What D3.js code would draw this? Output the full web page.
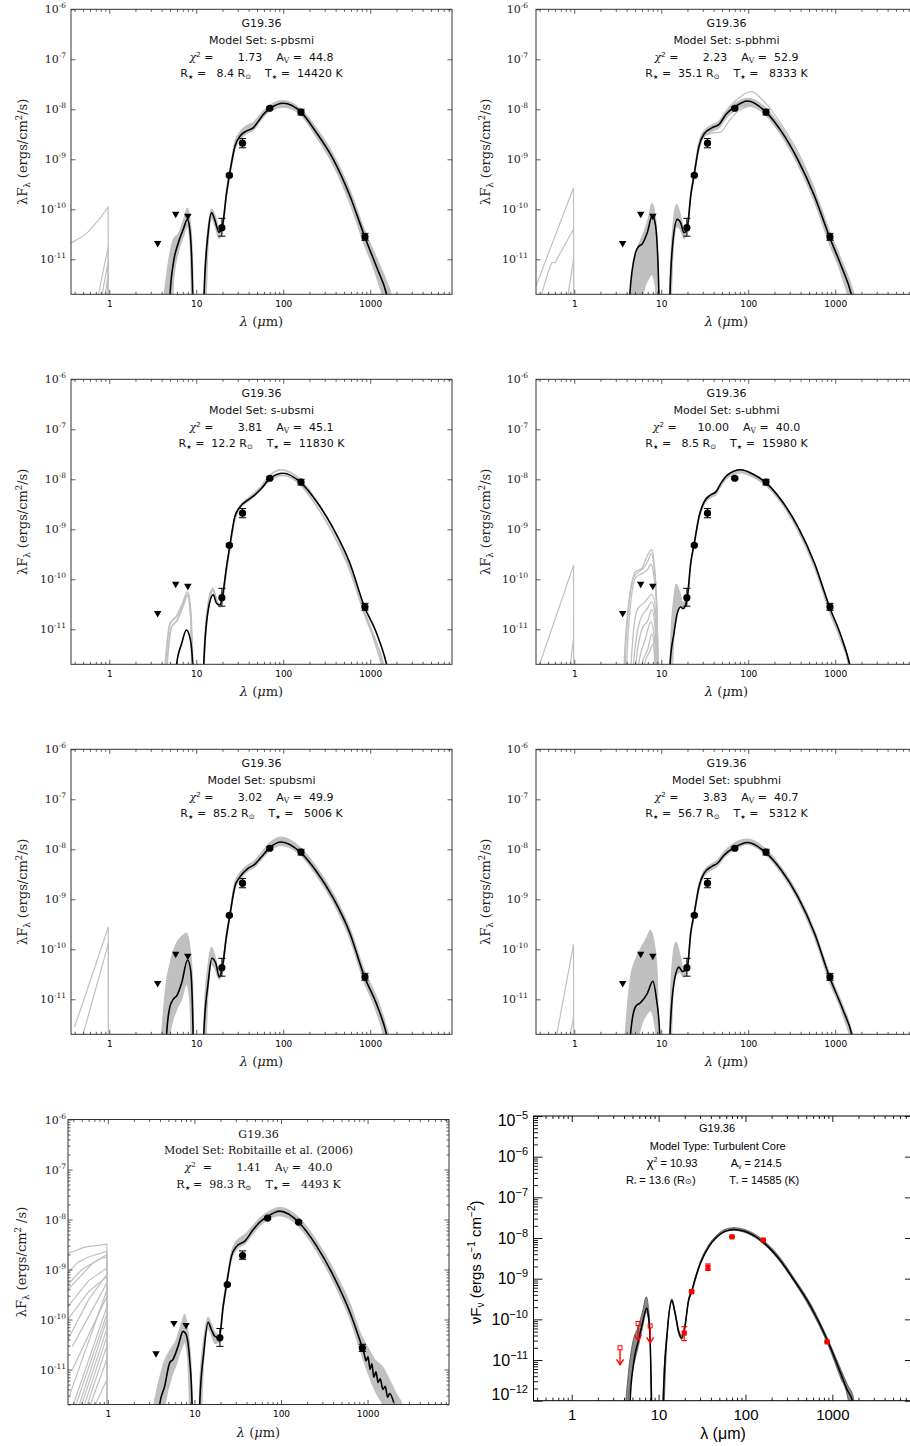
<!DOCTYPE html>
<html>
<head>
<meta charset="utf-8">
<script src="https://cdn.jsdelivr.net/npm/d3@7/dist/d3.min.js"></script>
<style>
body{margin:0;background:#fff;}
svg{display:block;}
</style>
</head>
<body>
<svg id="chart" width="910" height="1446"></svg>
<script>
// ================= DATA =================
const sourceName = "G19.36";
const modelSets = ["s-pbsmi","s-pbhmi","s-ubsmi","s-ubhmi","spubsmi","spubhmi","Robitaille et al. (2006)"];
const chi2Values = [1.73, 2.23, 3.81, 10.00, 3.02, 3.83, 1.41];
const avValues = [44.8, 52.9, 45.1, 40.0, 49.9, 40.7, 40.0];
const rstarValues = [8.4, 35.1, 12.2, 8.5, 85.2, 56.7, 98.3];
const tstarValues = [14420, 8333, 11830, 15980, 5006, 5312, 4493];

const tcTitle = "Model Type: Turbulent Core";
const tcChi2 = "10.93", tcAv = "214.5", tcR = "13.6", tcT = "14585";

const xTickValues = [1, 10, 100, 1000];
const yTickValues = [1e-11, 1e-10, 1e-9, 1e-8, 1e-7, 1e-6];
const tcYTickValues = [1e-12, 1e-11, 1e-10, 1e-9, 1e-8, 1e-7, 1e-6, 1e-5];

// observed fluxes (panels 1-6)
const obsWave = [19.7, 24, 34, 70, 160, 870];
const obsFlux = [4.3e-11, 4.8e-10, 2.1e-9, 1.05e-8, 8.8e-9, 2.8e-11];
const obsLow  = [2.9e-11, 4.5e-10, 1.7e-9, 9.9e-9, 7.7e-9, 2.4e-11];
const obsHigh = [6.6e-11, 5.1e-10, 2.6e-9, 1.12e-8, 1.0e-8, 3.3e-11];
const limWave = [3.6, 5.8, 8.0];
const limFlux = [2.1e-11, 8.1e-11, 7.4e-11];
// panel 7
const r06Wave = [19.7, 24, 36, 70, 160, 870];
const r06Flux = [4.3e-11, 5.0e-10, 1.9e-9, 1.07e-8, 8.9e-9, 2.7e-11];
const r06Low  = [2.9e-11, 4.7e-10, 1.6e-9, 1.0e-8, 8.3e-9, 2.3e-11];
const r06High = [6.6e-11, 5.3e-10, 2.35e-9, 1.14e-8, 9.5e-9, 3.2e-11];
const r06LimFlux = [2.1e-11, 8.5e-11, 7.7e-11];
// panel 8
const tcWave = [19.7, 24, 37, 70, 160, 870];
const tcFlux = [4.6e-11, 4.8e-10, 1.9e-9, 1.07e-8, 8.9e-9, 2.8e-11];
const tcLow  = [3.0e-11, 4.6e-10, 1.6e-9, 1.04e-8, 8.6e-9, 2.7e-11];
const tcHigh = [6.6e-11, 5.0e-10, 2.3e-9, 1.1e-8, 9.2e-9, 2.9e-11];
const tcLimFlux = [2.0e-11, 7.9e-11, 6.9e-11];

// ---- best-fit model SEDs [lambda, flux] ----
const p1Black = [[4.7,1e-13],[5.0,2e-12],[5.45,8.3e-12],[6.2,2.1e-11],[7.1,4e-11],[7.9,6.3e-11],[8.5,3.5e-11],[9.1,2e-12],[9.4,1e-13],[11.8,1e-13],[12.3,2e-12],[13.7,3.4e-11],[15.0,8.5e-11],[16.4,6e-11],[18.2,3.5e-11],[19.9,4.5e-11],[22.3,2.1e-10],[24.3,5.4e-10],[27.9,1.85e-9],[31.8,2.9e-9],[38,3.7e-9],[45.4,4.3e-9],[51.9,5.8e-9],[59,7.9e-9],[70,1.03e-8],[100,1.32e-8],[160,8.8e-9],[241,3.4e-9],[376,1e-9],[585,1.85e-10],[860,2.9e-11],[1183,7e-12],[1543,2e-12],[1900,3e-13]];
const p2Black = [[4.1,1e-13],[4.35,2e-12],[5.06,1.36e-11],[5.5,1.8e-11],[6.0,2e-11],[6.9,3.4e-11],[7.9,7.6e-11],[8.6,4.7e-11],[9.4,2e-12],[9.7,1e-13],[12.2,1e-13],[12.6,2e-12],[13.7,2.5e-11],[15.3,6.3e-11],[16.7,5.4e-11],[18.2,3.4e-11],[19.9,4.3e-11],[21.8,1.85e-10],[23.9,5e-10],[27.2,1.85e-9],[31,3.2e-9],[38.7,4.3e-9],[46.3,5e-9],[55.3,7.9e-9],[70,1.12e-8],[98,1.47e-8],[160,8.8e-9],[238,3.7e-9],[370,1e-9],[577,1.85e-10],[860,2.8e-11],[1170,7.4e-12],[1530,2e-12],[1900,3e-13]];
const p3Black = [[5.7,1e-13],[5.94,2e-12],[6.8,5.2e-12],[7.7,9.7e-12],[8.5,6.6e-12],[9.1,2e-12],[9.3,1e-13],[11.8,1e-13],[12.2,2e-12],[13.7,2.4e-11],[15.7,4.9e-11],[17.1,3.3e-11],[18.7,3.1e-11],[19.9,4.3e-11],[22.3,1.8e-10],[24.4,4.9e-10],[27.8,1.8e-9],[31.8,2.8e-9],[39.7,3.9e-9],[47.2,4.9e-9],[56.4,6.6e-9],[70.3,1.05e-8],[100,1.32e-8],[160,8.5e-9],[241,3.6e-9],[376,1.04e-9],[584,2.1e-10],[853,2.9e-11],[1183,8.3e-12],[1540,2e-12],[1900,3e-13]];
const p4Black = [[12.2,1e-13],[12.6,2e-12],[14,8.3e-12],[15.3,2.1e-11],[16.7,2.8e-11],[17.9,2.6e-11],[19.9,4.3e-11],[21.8,2.1e-10],[23.8,4.9e-10],[27.2,1.8e-9],[31,3.5e-9],[37,4.9e-9],[42.4,5.6e-9],[48.4,8.3e-9],[57.8,1.23e-8],[82,1.55e-8],[117,1.23e-8],[160,8.5e-9],[238,3.9e-9],[371,1.13e-9],[578,2.1e-10],[860,2.8e-11],[1175,7.1e-12],[1463,2e-12],[1800,3e-13]];
const p5Black = [[4.4,1e-13],[4.56,2e-12],[4.98,7.1e-12],[5.44,1.0e-11],[6.0,1.2e-11],[6.78,2.1e-11],[7.95,6.1e-11],[8.6,3.9e-11],[9.2,2e-12],[9.4,1e-13],[11.8,1e-13],[12.2,2e-12],[13.7,2.1e-11],[15.1,6.6e-11],[16.8,5.2e-11],[18.4,2.8e-11],[19.9,4.3e-11],[22.3,1.9e-10],[24.4,4.9e-10],[27.8,1.8e-9],[31.8,2.8e-9],[39.7,4.2e-9],[47,5e-9],[56,7e-9],[70,1.08e-8],[95,1.4e-8],[160,8.5e-9],[241,3.6e-9],[376,1.05e-9],[584,2.1e-10],[853,2.9e-11],[1183,8e-12],[1540,2e-12],[1900,3e-13]];
const p6Black = [[4.3,1e-13],[4.43,2e-12],[5.06,7.1e-12],[5.78,8.6e-12],[6.9,1.3e-11],[8.0,2.3e-11],[8.75,1.1e-11],[9.6,2e-12],[9.8,1e-13],[12.2,1e-13],[12.6,2e-12],[14,2.1e-11],[16,4.4e-11],[17.5,3.6e-11],[19.9,4.3e-11],[21.8,2.1e-10],[23.8,4.9e-10],[27.2,1.8e-9],[31,3.3e-9],[38.7,4.6e-9],[44,5.2e-9],[52.6,7.6e-9],[70,1.1e-8],[98,1.37e-8],[160,8.5e-9],[238,3.9e-9],[371,1.13e-9],[578,2.1e-10],[860,2.8e-11],[1225,6.2e-12],[1550,2e-12],[1900,3e-13]];
const p7Black = [[3.8,1e-13],[3.97,2e-12],[4.53,4.6e-12],[5.18,1.36e-11],[5.66,1.6e-11],[6.47,2.9e-11],[7.39,5.8e-11],[7.94,5.2e-11],[8.8,1.6e-11],[9.4,2e-12],[9.6,1e-13],[11.2,1e-13],[11.5,2e-12],[12.8,2.1e-11],[14.4,8.8e-11],[15.7,6.3e-11],[17.2,4.6e-11],[19.3,4.3e-11],[21.5,1.85e-10],[23.5,5e-10],[26.8,1.85e-9],[30.6,2.9e-9],[38.3,3.7e-9],[47.8,6.3e-9],[57.1,8.9e-9],[68.2,1.12e-8],[97.3,1.47e-8],[159,8.9e-9],[259,2.9e-9],[404,7.4e-10],[630,1.35e-10],[860,2.9e-11],[900,2.3e-11],[960,1.5e-11],[1010,1.8e-11],[1070,1e-11],[1120,1.3e-11],[1180,7e-12],[1250,9e-12],[1320,5.5e-12],[1400,6.5e-12],[1500,4e-12],[1600,4.6e-12],[1700,2.8e-12],[1800,3.3e-12],[2000,2.2e-12]];
const tcBlack = [[4.5,1e-13],[4.7,1e-12],[5.15,8.3e-12],[5.88,3.1e-11],[6.6,9e-11],[7.3,1.9e-10],[7.6,1.3e-10],[8.0,3e-11],[8.3,1e-12],[8.5,1e-13],[11.1,1e-13],[11.3,1e-12],[12.6,5e-11],[14.2,2.9e-10],[15.6,1.3e-10],[17.0,5e-11],[18.4,3.5e-11],[19.8,5.5e-11],[22.2,3e-10],[24,4.8e-10],[26,9e-10],[30.3,2.4e-9],[37.8,6.1e-9],[47.1,1.07e-8],[58.8,1.48e-8],[73.3,1.63e-8],[95.6,1.48e-8],[149,8.9e-9],[232,3.5e-9],[361,9.3e-10],[562,2.1e-10],[875,3.1e-11],[1248,4.7e-12],[1490,1.8e-12],[1700,1e-12],[1800,1e-13]];

// ---- grey model envelopes [lambda, low, high] ----
const p1Band = [[4.2,1e-14,1.5e-12],[4.8,1e-14,9e-12],[5.5,4e-12,2.6e-11],[6.3,1.5e-11,3.3e-11],[7.2,3e-11,6.5e-11],[7.9,4.5e-11,1.05e-10],[8.5,2e-11,6e-11],[9.1,1e-13,8e-12],[9.6,1e-14,1e-14],[11.8,1e-14,1e-14],[12.4,1e-13,4e-12],[13.7,2e-11,4.5e-11],[15.0,6.5e-11,1e-10],[16.5,4.5e-11,7.5e-11],[18.3,2.6e-11,4.3e-11],[20,3.6e-11,5.2e-11],[22.3,1.8e-10,2.5e-10],[24.3,4.6e-10,6.2e-10],[28,1.6e-9,2.3e-9],[32,2.5e-9,3.6e-9],[38,3.3e-9,4.7e-9],[46,3.9e-9,5.6e-9],[55,6e-9,8e-9],[70,9.3e-9,1.2e-8],[100,1.1e-8,1.5e-8],[160,7.6e-9,1.0e-8],[240,2.8e-9,4.2e-9],[376,7.6e-10,1.25e-9],[585,1.3e-10,2.4e-10],[860,1.9e-11,3.8e-11],[1200,4e-12,1e-11],[1550,6e-13,3.5e-12],[1750,1e-14,1.8e-12],[1850,1e-14,5e-13]];
const p2Band = [[4.3,1e-14,1e-12],[4.8,1e-14,7e-12],[5.4,1e-13,1.8e-11],[6.2,2e-12,3.2e-11],[7.1,4e-12,6.5e-11],[7.8,5e-12,1.3e-10],[8.5,3e-12,8e-11],[9.2,1e-13,5e-12],[9.7,1e-14,1e-14],[12.0,1e-14,1e-14],[12.5,1e-13,3e-12],[13.7,1.5e-11,5e-11],[15.0,4.5e-11,1.25e-10],[16.5,4e-11,8e-11],[18.3,2.6e-11,4e-11],[20,3.6e-11,5e-11],[21.8,1.6e-10,2.2e-10],[24,4.5e-10,6e-10],[27.2,1.6e-9,2.3e-9],[31,2.8e-9,3.7e-9],[38.7,3.7e-9,4.9e-9],[46,4.2e-9,5.8e-9],[55,6.5e-9,9e-9],[70,9.5e-9,1.3e-8],[100,1.15e-8,1.65e-8],[160,7.6e-9,1.05e-8],[240,3e-9,4.4e-9],[370,8e-10,1.25e-9],[577,1.4e-10,2.4e-10],[860,2e-11,3.7e-11],[1170,5e-12,1e-11],[1530,7e-13,3e-12],[1750,1e-14,1.2e-12],[1850,1e-14,1e-14]];
const p3Band = [];
const p4Band = [[12.1,1e-14,1e-14],[12.8,1e-13,5e-12],[14,8e-12,4.5e-11],[14.8,2e-11,8e-11],[16.3,2.8e-11,5.5e-11],[17.6,2.5e-11,3.5e-11],[20,3.6e-11,4.6e-11],[21.8,1.8e-10,2.2e-10],[23.8,4.4e-10,5.2e-10],[27.2,1.6e-9,1.9e-9],[31,3.1e-9,3.6e-9],[37,4.3e-9,5e-9],[42.4,4.9e-9,5.8e-9],[48.4,7.3e-9,8.5e-9],[57.8,1.07e-8,1.25e-8],[82,1.35e-8,1.55e-8],[117,1.08e-8,1.25e-8],[160,7.5e-9,8.7e-9],[238,3.4e-9,4e-9],[371,9.5e-10,1.15e-9],[578,1.7e-10,2.1e-10],[860,2.2e-11,2.8e-11],[1175,5.5e-12,7e-12],[1420,1.8e-12,2.5e-12],[1650,1e-14,6e-13]];
const p5Band = [[4.0,1e-14,2e-12],[4.5,1e-13,2e-11],[5.0,2e-12,5.2e-11],[5.9,6e-12,1.3e-10],[6.8,1e-11,1.8e-10],[7.7,2e-11,2.1e-10],[8.4,1e-11,1.2e-10],[9.1,1e-13,2e-11],[9.6,1e-14,1e-13],[11.8,1e-14,1e-14],[12.3,1e-13,5e-12],[13.7,1.5e-11,5e-11],[15,5e-11,1.1e-10],[16.5,4e-11,7e-11],[18.3,2.5e-11,3.5e-11],[20,3.5e-11,5e-11],[22.3,1.6e-10,2.3e-10],[24.4,4.4e-10,5.8e-10],[27.8,1.6e-9,2.2e-9],[31.8,2.5e-9,3.4e-9],[39.7,3.7e-9,4.9e-9],[47,4.4e-9,6e-9],[56,6.3e-9,8.5e-9],[70,9.5e-9,1.35e-8],[95,1.2e-8,1.75e-8],[160,7.5e-9,1.05e-8],[241,3e-9,4.4e-9],[376,8.5e-10,1.3e-9],[584,1.6e-10,2.6e-10],[853,2.2e-11,3.8e-11],[1183,5.5e-12,1.1e-11],[1500,1e-12,3.2e-12],[1700,1e-14,1.2e-12],[1800,1e-14,1e-14]];
const p6Band = [[3.84,1e-14,2e-12],[4.4,1e-13,2.5e-11],[5.2,1e-12,7e-11],[5.9,3e-12,1.1e-10],[6.8,5e-12,1.7e-10],[7.5,6e-12,2.4e-10],[8.2,4e-12,1.5e-10],[9.0,1e-12,3e-11],[9.5,1e-14,1e-13],[12.1,1e-14,1e-14],[12.6,1e-13,5e-12],[13.7,1.5e-11,8e-11],[14.8,3e-11,1.4e-10],[16.3,3.5e-11,8e-11],[18,2.8e-11,4e-11],[20,3.5e-11,5e-11],[21.8,1.8e-10,2.4e-10],[23.8,4.4e-10,5.6e-10],[27.2,1.6e-9,2.1e-9],[31,2.9e-9,3.7e-9],[38.7,4e-9,5.2e-9],[44,4.6e-9,6e-9],[52.6,6.8e-9,9e-9],[70,1.0e-8,1.35e-8],[98,1.25e-8,1.6e-8],[160,7.7e-9,1.0e-8],[238,3.4e-9,4.4e-9],[371,9.7e-10,1.3e-9],[578,1.7e-10,2.4e-10],[860,2.2e-11,3.3e-11],[1225,4.8e-12,7.5e-12],[1550,1e-12,2.3e-12],[1750,1e-14,8e-13]];
const p7Band = [[3.4,1e-14,2e-12],[3.9,1e-13,6e-12],[4.6,2e-12,1.6e-11],[5.3,6e-12,2.5e-11],[6.2,1.3e-11,4e-11],[7.0,2.5e-11,8e-11],[7.73,3.5e-11,1.25e-10],[8.4,1.5e-11,6e-11],[9.2,1e-13,1e-11],[9.8,1e-14,1e-13],[11.0,1e-14,1e-14],[11.5,1e-13,5e-12],[12.8,1.5e-11,4e-11],[14.4,6.5e-11,1.1e-10],[15.7,5e-11,8e-11],[17.2,3.3e-11,5.5e-11],[19.3,3.5e-11,5e-11],[21.5,1.6e-10,2.3e-10],[23.5,4.4e-10,6e-10],[26.8,1.6e-9,2.3e-9],[30.6,2.5e-9,3.7e-9],[38.3,3.3e-9,5e-9],[47.8,5.3e-9,7.6e-9],[57.1,7.6e-9,1.07e-8],[68.2,9.7e-9,1.35e-8],[97.3,1.2e-8,1.75e-8],[159,7.4e-9,1.1e-8],[259,2.3e-9,3.7e-9],[404,5.6e-10,1e-9],[630,1e-10,2e-10],[860,1.9e-11,4.5e-11],[1000,9e-12,2.8e-11],[1200,4e-12,1.6e-11],[1500,2e-12,1.1e-11],[1800,1e-12,6e-12],[2100,1e-13,3.5e-12],[2600,1e-14,1.6e-12],[2800,1e-14,1e-14]];
const tcBand = [[4.2,1e-13,1e-12],[4.5,1e-12,5e-12],[5.0,5e-12,2.5e-11],[5.88,2.3e-11,7e-11],[6.6,7e-11,1.7e-10],[7.2,1.5e-10,3.6e-10],[7.6,1.1e-10,2.2e-10],[8.0,2.5e-11,4e-11],[8.3,1e-13,1e-12],[8.5,1e-14,1e-13],[11.0,1e-14,1e-14],[11.3,1e-13,1.5e-12],[12.6,4.5e-11,6e-11],[14.2,2.6e-10,3.2e-10],[15.6,1.2e-10,1.45e-10],[17,4.5e-11,5.6e-11],[18.4,3.2e-11,4e-11],[19.8,5e-11,6e-11],[22.2,2.8e-10,3.3e-10],[24,4.5e-10,5.3e-10],[30.3,2.3e-9,2.7e-9],[37.8,5.9e-9,6.8e-9],[47.1,1.03e-8,1.2e-8],[58.8,1.43e-8,1.65e-8],[73.3,1.55e-8,1.8e-8],[95.6,1.4e-8,1.65e-8],[149,8.3e-9,1e-8],[232,3.2e-9,4e-9],[361,8.5e-10,1.05e-9],[562,1.8e-10,2.4e-10],[875,2.6e-11,3.5e-11],[1248,3.6e-12,6e-12],[1490,1.3e-12,2.5e-12],[1750,1e-13,1.2e-12],[1850,1e-14,1e-13]];

// ---- individual grey model curves (smooth) ----
const p1Grey = [];
const p2Grey = [
  [[35,3.6e-9],[45,5e-9],[55,9e-9],[75,1.6e-8],[107,2.25e-8],[160,1.3e-8],[240,5e-9],[380,1.3e-9],[600,2.2e-10]],
  [[32,3e-9],[40,3.4e-9],[48,3.5e-9],[60,5.8e-9],[75,9e-9],[100,1.15e-8]]
];
const p3Grey = [
  [[4.0,1e-13],[4.5,3e-12],[5.0,1.3e-11],[5.9,1.8e-11],[7.0,3.3e-11],[7.95,5.6e-11],[8.5,3e-11],[9.1,2e-12],[9.3,1e-13]],
  [[4.2,1e-13],[4.7,3e-12],[5.2,1.1e-11],[6.0,1.5e-11],[7.0,2.8e-11],[7.95,4.8e-11],[8.6,2e-11],[9.1,1e-13]],
  [[11.8,1e-13],[12.3,3e-12],[13.8,3.5e-11],[15.5,6.6e-11],[17.0,4e-11],[18.5,3e-11],[20,4e-11],[22.3,1.7e-10],[24.4,4.6e-10],[27.8,1.7e-9],[31.8,2.9e-9],[40,4.2e-9],[55,7e-9],[70,1.2e-8],[95,1.55e-8],[160,9.5e-9],[240,3.8e-9],[376,1e-9],[585,1.8e-10],[860,2.3e-11],[1150,6e-12],[1450,1.5e-12],[1700,1e-13]],
  [[11.8,1e-13],[12.4,3e-12],[13.9,3e-11],[15.6,6e-11],[17.0,3.6e-11],[18.5,2.8e-11],[20,3.8e-11],[22.3,1.6e-10],[24.4,4.5e-10],[27.8,1.6e-9],[31.8,2.7e-9],[40,3.7e-9],[55,6.2e-9],[70,9.6e-9],[100,1.2e-8],[160,7.6e-9],[240,3e-9],[376,8e-10],[585,1.5e-10],[860,2e-11],[1150,5e-12],[1420,1.2e-12],[1650,1e-13]]
];
const p4Grey = [
  [[3.6,1e-13],[3.75,2e-12],[4.0,1.3e-11],[4.6,8.3e-11],[5.0,1.4e-10],[6.0,1.66e-10],[6.8,2.8e-10],[7.8,3.9e-10],[8.2,2.5e-10],[8.9,2.8e-11],[9.6,1e-13]],
  [[3.7,1e-13],[3.85,2e-12],[4.2,2.5e-11],[4.8,1.1e-10],[5.5,1.4e-10],[6.3,1.7e-10],[7.0,2.3e-10],[7.7,3.3e-10],[8.2,2e-10],[8.9,2.5e-11],[9.5,1e-13]],
  [[3.8,1e-13],[4.0,2e-12],[4.5,4e-11],[5.1,1.1e-10],[6.0,1.3e-10],[7.0,1.6e-10],[7.6,2e-10],[8.3,1e-10],[9.0,1.5e-11],[9.4,1e-13]],
  [[4.2,1e-13],[4.5,2e-12],[5.3,2.5e-11],[6.5,3.5e-11],[7.8,5e-11],[8.6,2.5e-11],[9.3,1e-13]],
  [[4.5,1e-13],[4.8,2e-12],[5.7,1.5e-11],[6.8,2.5e-11],[7.8,3.5e-11],[8.6,1.5e-11],[9.2,1e-13]],
  [[4.8,1e-13],[5.1,2e-12],[6.0,1e-11],[7.0,1.5e-11],[7.8,2.5e-11],[8.5,1e-11],[9.1,1e-13]],
  [[5.2,1e-13],[5.5,2e-12],[6.5,6e-12],[7.6,1.4e-11],[8.4,6e-12],[9.0,1e-13]],
  [[5.6,1e-13],[6.0,2e-12],[7.0,4e-12],[7.8,8e-12],[8.4,3e-12],[8.9,1e-13]],
  [[6.0,1e-13],[6.4,2e-12],[7.3,3.5e-12],[8.0,5e-12],[8.5,2e-12],[8.8,1e-13]]
];
const p5Grey = [];
const p6Grey = [];
const p7Grey = [];

// ---- short-wavelength grey curves ending at 1 micron (straight segments) ----
const p1Spikes = [
  [[0.36,2.1e-11],[0.45,2.6e-11],[0.55,3.3e-11],[0.75,6e-11],[0.97,1.1e-10],[0.975,1e-14]],
  [[0.7,1e-13],[0.75,2e-12],[0.97,1.75e-11],[0.975,1e-14]],
  [[0.78,1e-13],[0.83,2e-12],[0.97,9e-12],[0.975,1e-14]],
  [[0.85,1e-13],[0.9,2e-12],[0.97,5e-12],[0.975,1e-14]]
];
const p2Spikes = [
  [[0.365,3e-12],[0.98,2.7e-10],[0.985,1e-14]],
  [[0.37,1e-13],[0.42,2e-12],[0.5,5.5e-12],[0.55,8.6e-12],[0.6,8.6e-12],[0.98,4e-11],[0.985,1e-14]],
  [[0.8,1e-13],[0.85,2e-12],[0.98,1e-11],[0.985,1e-14]]
];
const p3Spikes = [];
const p4Spikes = [
  [[0.4,2e-12],[0.98,1.9e-10],[0.985,1e-14]],
  [[0.86,1e-13],[0.9,2e-12],[0.98,6.6e-12],[0.985,1e-14]]
];
const p5Spikes = [
  [[0.4,2.8e-12],[0.975,2.8e-10],[0.98,1e-14]],
  [[0.5,2e-12],[0.975,1.3e-10],[0.98,1e-14]]
];
const p6Spikes = [
  [[0.63,2e-12],[0.98,1.26e-10],[0.985,1e-14]],
  [[0.86,1e-13],[0.9,2e-12],[0.98,4.5e-12],[0.985,1e-14]]
];
const p7Spikes = [
  [[0.345,2.1e-9],[0.54,2.8e-9],[0.975,3.2e-9],[0.98,1e-14]],
  [[0.345,8.5e-10],[0.45,1.4e-9],[0.61,1.8e-9],[0.975,2.3e-9],[0.98,1e-14]],
  [[0.345,5e-10],[0.5,1e-9],[0.8,1.6e-9],[0.975,1.8e-9],[0.98,1e-14]],
  [[0.345,3.9e-10],[0.67,1.35e-9],[0.975,2e-9],[0.98,1e-14]],
  [[0.345,1.8e-10],[0.6,6e-10],[0.975,1.07e-9],[0.98,1e-14]],
  [[0.345,1e-10],[0.6,3.6e-10],[0.975,7.2e-10],[0.98,1e-14]],
  [[0.345,4e-11],[0.6,2.5e-10],[0.975,8e-10],[0.98,1e-14]],
  [[0.39,2.9e-11],[0.975,5.4e-10],[0.98,1e-14]],
  [[0.36,3e-12],[0.975,3.9e-10],[0.98,1e-14]],
  [[0.39,1e-11],[0.975,2.9e-10],[0.98,1e-14]],
  [[0.4,2e-12],[0.975,1.8e-10],[0.98,1e-14]],
  [[0.43,2e-12],[0.975,1.3e-10],[0.98,1e-14]],
  [[0.47,2e-12],[0.975,1e-10],[0.98,1e-14]],
  [[0.5,2e-12],[0.975,6.5e-11],[0.98,1e-14]],
  [[0.54,2e-12],[0.975,4.6e-11],[0.98,1e-14]],
  [[0.58,2e-12],[0.975,3e-11],[0.98,1e-14]],
  [[0.63,2e-12],[0.975,1.6e-11],[0.98,1e-14]],
  [[0.72,2e-12],[0.975,6.3e-12],[0.98,1e-14]]
];

const blacks = [p1Black,p2Black,p3Black,p4Black,p5Black,p6Black,p7Black];
const bands = [p1Band,p2Band,p3Band,p4Band,p5Band,p6Band,p7Band];
const greys = [p1Grey,p2Grey,p3Grey,p4Grey,p5Grey,p6Grey,p7Grey];
const spikes = [p1Spikes,p2Spikes,p3Spikes,p4Spikes,p5Spikes,p6Spikes,p7Spikes];

// ================= DRAWING =================
const svg = d3.select("#chart");
const defs = svg.append("defs");
const W = 381, H = 285;
const GREY = "#c0c0c0";
const SANS = "DejaVu Sans", SERIF = "DejaVu Serif";
const layout = [
  {x0:71, y0:9.3, lab:66, ylab:27},
  {x0:536, y0:9.3, lab:528, ylab:490},
  {x0:71, y0:379.3, lab:66, ylab:27},
  {x0:536, y0:379.3, lab:528, ylab:490},
  {x0:71, y0:749.3, lab:66, ylab:27},
  {x0:536, y0:749.3, lab:528, ylab:490},
  {x0:68, y0:1119.5, lab:66, ylab:26}
];
const nb = s => String(s).replace(/ /g, "\u00a0");

function rich(t, parts) {
  parts.forEach(p => {
    const s = t.append("tspan").text(nb(p.t));
    if (p.dy != null) s.attr("dy", p.dy);
    if (p.fs) s.attr("font-size", p.fs);
    if (p.ff) s.attr("font-family", p.ff);
    if (p.it) s.attr("font-style", "italic");
  });
  return t;
}
function minorTicks([lo, hi]) {
  const out = [];
  for (let e = Math.floor(Math.log10(lo)); e <= Math.ceil(Math.log10(hi)); e++)
    for (let k = 2; k <= 9; k++) { const v = k * Math.pow(10, e); if (v > lo * 1.0001 && v < hi * 0.9999) out.push(v); }
  return out;
}
function drawTicks(g, x, y, x0, y0, w, h, o) {
  const style = sel => { sel.select(".domain").remove(); sel.selectAll("line").attr("stroke", o.tc).attr("stroke-width", o.tw); };
  const xMin = minorTicks(x.domain());
  g.append("g").attr("transform", `translate(0,${y0 + h})`)
    .call(d3.axisBottom(x).tickValues(xTickValues).tickSize(-o.xL).tickSizeOuter(0).tickPadding(o.xpad).tickFormat(d3.format("d")))
    .call(style)
    .call(s => s.selectAll("text").attr("font-family", o.xff).attr("font-size", o.xfs).attr("fill", "#000"));
  g.append("g").attr("transform", `translate(0,${y0 + h})`)
    .call(d3.axisBottom(x).tickValues(xMin).tickSize(-o.xl).tickSizeOuter(0).tickFormat("")).call(style);
  g.append("g").attr("transform", `translate(0,${y0})`)
    .call(d3.axisTop(x).tickValues(xTickValues).tickSize(-o.xL).tickSizeOuter(0).tickFormat("")).call(style);
  g.append("g").attr("transform", `translate(0,${y0})`)
    .call(d3.axisTop(x).tickValues(xMin).tickSize(-o.xl).tickSizeOuter(0).tickFormat("")).call(style);
  g.append("g").attr("transform", `translate(${x0},0)`)
    .call(d3.axisLeft(y).tickValues(o.yMaj).tickSize(-o.yL).tickSizeOuter(0).tickFormat("")).call(style);
  if (o.yMinorLeft) g.append("g").attr("transform", `translate(${x0},0)`)
    .call(d3.axisLeft(y).tickValues(minorTicks(y.domain())).tickSize(-o.yl).tickSizeOuter(0).tickFormat("")).call(style);
  g.append("g").attr("transform", `translate(${x0 + w},0)`)
    .call(d3.axisRight(y).tickValues(o.yMaj).tickSize(-o.yL).tickSizeOuter(0).tickFormat("")).call(style);
  if (o.yMinorRight) g.append("g").attr("transform", `translate(${x0 + w},0)`)
    .call(d3.axisRight(y).tickValues(minorTicks(y.domain())).tickSize(-o.yl).tickSizeOuter(0).tickFormat("")).call(style);
}

const fChi = d3.format(">10.2f"), fAv = d3.format(">5.1f"), fR = d3.format(">5.1f"), fT = d3.format(">6.0f");

function sedPanel(i) {
  const {x0, y0, lab, ylab} = layout[i];
  const isR06 = i === 6;
  const xLo = isR06 ? Math.pow(10, -0.46) : Math.pow(10, -0.44);
  const x = d3.scaleLog().domain([xLo, Math.pow(10, 3.94)]).range([x0, x0 + W]);
  const y = d3.scaleLog().domain([Math.pow(10, -11.7), 1e-6]).range([y0 + H, y0]);
  const g = svg.append("g");
  const cid = "clip" + i;
  defs.append("clipPath").attr("id", cid).append("rect").attr("x", x0).attr("y", y0).attr("width", W).attr("height", H);
  const plot = g.append("g").attr("clip-path", `url(#${cid})`);
  const line = d3.line().x(d => x(d[0])).y(d => y(d[1])).curve(d3.curveMonotoneX);
  const lineLin = d3.line().x(d => x(d[0])).y(d => y(d[1]));
  const area = d3.area().x(d => x(d[0])).y0(d => y(d[1])).y1(d => y(d[2])).curve(d3.curveMonotoneX);

  if (bands[i].length) plot.append("path").attr("d", area(bands[i])).attr("fill", GREY).attr("stroke", GREY).attr("stroke-width", 1.2);
  greys[i].forEach(c => plot.append("path").attr("d", line(c)).attr("fill", "none").attr("stroke", GREY).attr("stroke-width", i === 2 ? 1.8 : 1.3));
  spikes[i].forEach(c => plot.append("path").attr("d", lineLin(c)).attr("fill", "none").attr("stroke", GREY).attr("stroke-width", 1.2));
  plot.append("path").attr("d", line(blacks[i])).attr("fill", "none").attr("stroke", "#000").attr("stroke-width", 1.6);

  const wv = isR06 ? r06Wave : obsWave, fl = isR06 ? r06Flux : obsFlux;
  const lo = isR06 ? r06Low : obsLow, hi = isR06 ? r06High : obsHigh;
  const lf = isR06 ? r06LimFlux : limFlux;
  const eb = g.append("g").attr("stroke", "#000").attr("stroke-width", 1);
  wv.forEach((w, k) => {
    const cx = x(w);
    eb.append("line").attr("x1", cx).attr("x2", cx).attr("y1", y(lo[k])).attr("y2", y(hi[k]));
    eb.append("line").attr("x1", cx - 3.6).attr("x2", cx + 3.6).attr("y1", y(lo[k])).attr("y2", y(lo[k]));
    eb.append("line").attr("x1", cx - 3.6).attr("x2", cx + 3.6).attr("y1", y(hi[k])).attr("y2", y(hi[k]));
  });
  g.append("g").selectAll("circle").data(wv).join("circle")
    .attr("cx", d => x(d)).attr("cy", (d, k) => y(fl[k])).attr("r", 3.6).attr("fill", "#000");
  const tri = d3.symbol(d3.symbolTriangle, 24);
  g.append("g").selectAll("path").data(limWave).join("path")
    .attr("d", tri).attr("transform", (d, k) => `translate(${x(d)},${y(lf[k])}) rotate(180)`).attr("fill", "#000");

  g.append("rect").attr("x", x0).attr("y", y0).attr("width", W).attr("height", H).attr("fill", "none").attr("stroke", "#333").attr("stroke-width", 1);
  drawTicks(g, x, y, x0, y0, W, H, {tc:"#333", tw:0.8, xL:4.5, xl:2.5, yL:4.5, yl:2.5, xpad:6.5, xff:SANS, xfs:9, yMaj:yTickValues, yMinorLeft:isR06, yMinorRight:isR06});
  yTickValues.forEach(v => {
    const t = g.append("text").attr("x", lab).attr("y", y(v) + 4).attr("text-anchor", "end").attr("font-family", SERIF).attr("font-size", 11).attr("fill", "#222");
    rich(t, [{t:"10"}, {t:String(Math.round(Math.log10(v))), fs:7.5, dy:-5}]);
  });
  const cx = x0 + W / 2;
  const xl = g.append("text").attr("x", cx).attr("y", y0 + H + 32).attr("text-anchor", "middle").attr("font-family", SERIF).attr("font-size", 13).attr("fill", "#222");
  rich(xl, [{t:"λ", it:true}, {t:" ("}, {t:"μ", it:true}, {t:"m)"}]);
  const yl = g.append("text").attr("transform", `translate(${ylab},${y0 + H / 2}) rotate(-90)`).attr("text-anchor", "middle").attr("font-family", SERIF).attr("font-size", 13).attr("fill", "#222");
  rich(yl, [{t:"λF"}, {t:"λ", fs:8.5, dy:3}, {t:" (ergs/cm", dy:-3}, {t:"2", fs:8.5, dy:-5}, {t:isR06 ? " /s)" : "/s)", dy:5}]);

  const tf = isR06 ? SERIF : SANS;
  const mk = (yy) => g.append("text").attr("x", cx).attr("y", y0 + yy).attr("text-anchor", "middle").attr("font-family", tf).attr("font-size", 11).attr("fill", "#111");
  mk(18).text(sourceName);
  mk(34.5).text(nb("Model Set: " + modelSets[i]));
  rich(mk(51.5), [{t:"χ", ff:SERIF, it:true}, {t:"2", fs:7, dy:-4}, {t:(isR06 ? "  = " : " = ") + fChi(chi2Values[i]) + "    A", dy:4}, {t:"V", fs:7.5, dy:2, ff:SERIF}, {t:" = " + fAv(avValues[i]), dy:-2}]);
  rich(mk(68), [{t:"R"}, {t:"★", fs:6, dy:2}, {t:" = " + fR(rstarValues[i]) + " R", dy:-2}, {t:"⊙", fs:7, dy:2}, {t:"    T", dy:-2}, {t:"★", fs:6, dy:2}, {t:" = " + fT(tstarValues[i]) + " K", dy:-2}]);
}

for (let i = 0; i < 7; i++) sedPanel(i);

// ---------- panel 8: turbulent core model ----------
(function tcPanel() {
  const x0 = 533.5, y0 = 1116, w = 380.5, h = 284.7;
  const x = d3.scaleLog().domain([Math.pow(10, -0.44), Math.pow(10, 3.94)]).range([x0, x0 + w]);
  const y = d3.scaleLog().domain([1e-12, 1e-5]).range([y0 + h, y0]);
  const g = svg.append("g");
  defs.append("clipPath").attr("id", "clip7").append("rect").attr("x", x0).attr("y", y0).attr("width", w).attr("height", h);
  const plot = g.append("g").attr("clip-path", "url(#clip7)");
  const line = d3.line().x(d => x(d[0])).y(d => y(d[1])).curve(d3.curveMonotoneX);
  const area = d3.area().x(d => x(d[0])).y0(d => y(d[1])).y1(d => y(d[2])).curve(d3.curveMonotoneX);
  plot.append("path").attr("d", area(tcBand)).attr("fill", "#8a8a8a").attr("stroke", "#5a5a5a").attr("stroke-width", 0.9);
  plot.append("path").attr("d", line(tcBlack)).attr("fill", "none").attr("stroke", "#000").attr("stroke-width", 1.5);

  const red = "#ff0000";
  const eb = g.append("g").attr("stroke", red).attr("stroke-width", 1.2);
  tcWave.forEach((wv, k) => {
    const cx = x(wv);
    eb.append("line").attr("x1", cx).attr("x2", cx).attr("y1", y(tcLow[k])).attr("y2", y(tcHigh[k]));
    eb.append("line").attr("x1", cx - 2.8).attr("x2", cx + 2.8).attr("y1", y(tcLow[k])).attr("y2", y(tcLow[k]));
    eb.append("line").attr("x1", cx - 2.8).attr("x2", cx + 2.8).attr("y1", y(tcHigh[k])).attr("y2", y(tcHigh[k]));
  });
  g.append("g").selectAll("rect").data(tcWave).join("rect")
    .attr("x", d => x(d) - 2.6).attr("y", (d, k) => y(tcFlux[k]) - 2.6).attr("width", 5.2).attr("height", 5.2).attr("fill", red);
  const lim = g.append("g").attr("stroke", red).attr("fill", "none").attr("stroke-width", 1.4);
  limWave.forEach((wv, k) => {
    const cx = x(wv), cy = y(tcLimFlux[k]);
    lim.append("rect").attr("x", cx - 2).attr("y", cy - 2).attr("width", 4).attr("height", 4).attr("stroke-width", 1);
    lim.append("line").attr("x1", cx).attr("x2", cx).attr("y1", cy + 2).attr("y2", cy + 17);
    lim.append("polyline").attr("points", `${cx - 3.5},${cy + 11.5} ${cx},${cy + 17} ${cx + 3.5},${cy + 11.5}`);
  });

  g.append("rect").attr("x", x0).attr("y", y0).attr("width", w).attr("height", h).attr("fill", "none").attr("stroke", "#000").attr("stroke-width", 1);
  drawTicks(g, x, y, x0, y0, w, h, {tc:"#000", tw:0.9, xL:6, xl:3, yL:9, yl:4.5, xpad:9, xff:"Liberation Sans", xfs:15, yMaj:tcYTickValues, yMinorLeft:true, yMinorRight:false});
  tcYTickValues.forEach(v => {
    const ty = Math.min(Math.max(y(v), y0 + 4), y0 + h - 6);
    const t = g.append("text").attr("x", 528).attr("y", ty + 5.5).attr("text-anchor", "end").attr("font-family", "Liberation Sans").attr("font-size", 16).attr("fill", "#000");
    rich(t, [{t:"10"}, {t:"−" + Math.abs(Math.round(Math.log10(v))), fs:11, dy:-7}]);
  });
  const xl = g.append("text").attr("x", 723).attr("y", 1439).attr("text-anchor", "middle").attr("font-family", "Liberation Sans").attr("font-size", 16).attr("fill", "#000");
  rich(xl, [{t:"λ (μm)"}]);
  const yl = g.append("text").attr("transform", `translate(481,${y0 + h / 2 + 4}) rotate(-90)`).attr("text-anchor", "middle").attr("font-family", "Liberation Sans").attr("font-size", 15).attr("fill", "#000");
  rich(yl, [{t:"νF"}, {t:"ν", fs:10, dy:3}, {t:" (ergs s", dy:-3}, {t:"−1", fs:10, dy:-6}, {t:" cm", dy:6}, {t:"−2", fs:10, dy:-6}, {t:")", dy:6}]);

  const tfam = "Liberation Sans";
  const txt = (xx, yy, anchor) => g.append("text").attr("x", xx).attr("y", yy).attr("text-anchor", anchor).attr("font-family", tfam).attr("font-size", 11).attr("fill", "#000");
  txt(717, 1132, "middle").text(sourceName);
  txt(717.7, 1149.5, "middle").text(nb(tcTitle));
  rich(txt(646.7, 1166.5, "start"), [{t:"χ", fs:13}, {t:"2", fs:7, dy:-5}, {t:" = " + tcChi2, dy:5}]);
  rich(txt(730.7, 1166.5, "start"), [{t:"A"}, {t:"v", fs:7, dy:2}, {t:" = " + tcAv, dy:-2}]);
  rich(txt(626, 1183.5, "start"), [{t:"R"}, {t:"*", fs:6, dy:2}, {t:" = " + tcR + " (R", dy:-2}, {t:"⊙", fs:8}, {t:")"}]);
  rich(txt(729.3, 1183.5, "start"), [{t:"T"}, {t:"*", fs:6, dy:2}, {t:" = " + tcT + " (K)", dy:-2}]);
})();
</script>
</body>
</html>
